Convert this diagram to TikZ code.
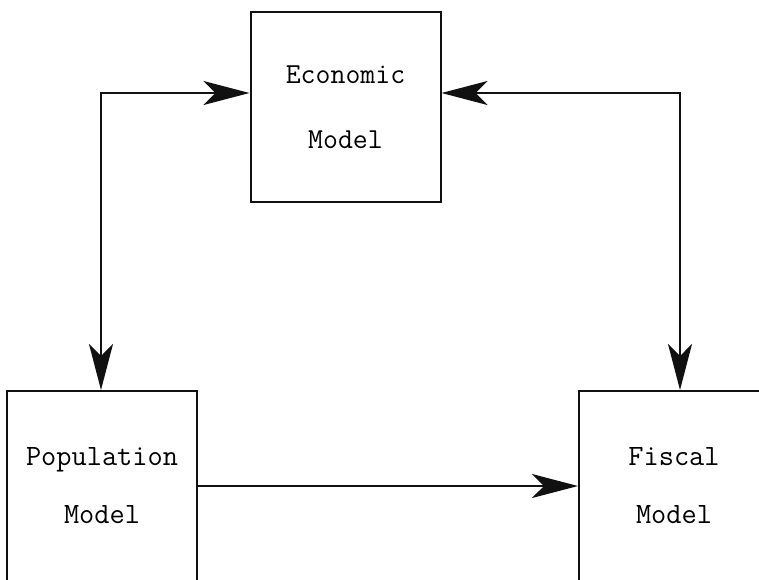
\documentclass[tikz,border=0pt]{standalone}
\usepackage{fontspec}
\usepackage{tikz}
\usetikzlibrary{arrows.meta,positioning,calc}
\definecolor{InkBlack}{HTML}{111111}
\tikzset{
  diagbox/.style={draw=InkBlack,line width=2pt,align=center,
    font=\ttfamily\fontsize{29.5}{58}\selectfont,minimum width=190pt,minimum height=190pt,inner sep=0pt},
  diagarrow/.style={-{Stealth[length=46pt,width=24pt,inset=12pt]},line width=1.8pt,draw=InkBlack},
  diagboth/.style={{Stealth[length=46pt,width=24pt,inset=12pt]}-{Stealth[length=46pt,width=24pt,inset=12pt]},line width=1.8pt,draw=InkBlack}
}
\begin{document}
\begin{tikzpicture}[x=1pt,y=-1pt]
  \useasboundingbox (0,0) rectangle (759,579);
  \clip (0,0) rectangle (759,579);

  \node[diagbox,font=\ttfamily\fontsize{29}{65}\selectfont] (eco) at (345.5,107) {Economic\\Model};
  \node[diagbox] (pop) at (102,486) {Population\\Model};
  \node[diagbox] (fis) at (674,486) {Fiscal\\Model};

  \draw[diagboth] ([yshift=14pt]eco.west) -| ([xshift=-1pt]pop.north);
  \draw[diagboth] ([yshift=14pt]eco.east) -| ([xshift=6pt]fis.north);
  \draw[diagarrow] (pop.east) -- (fis.west);
\end{tikzpicture}
\end{document}
